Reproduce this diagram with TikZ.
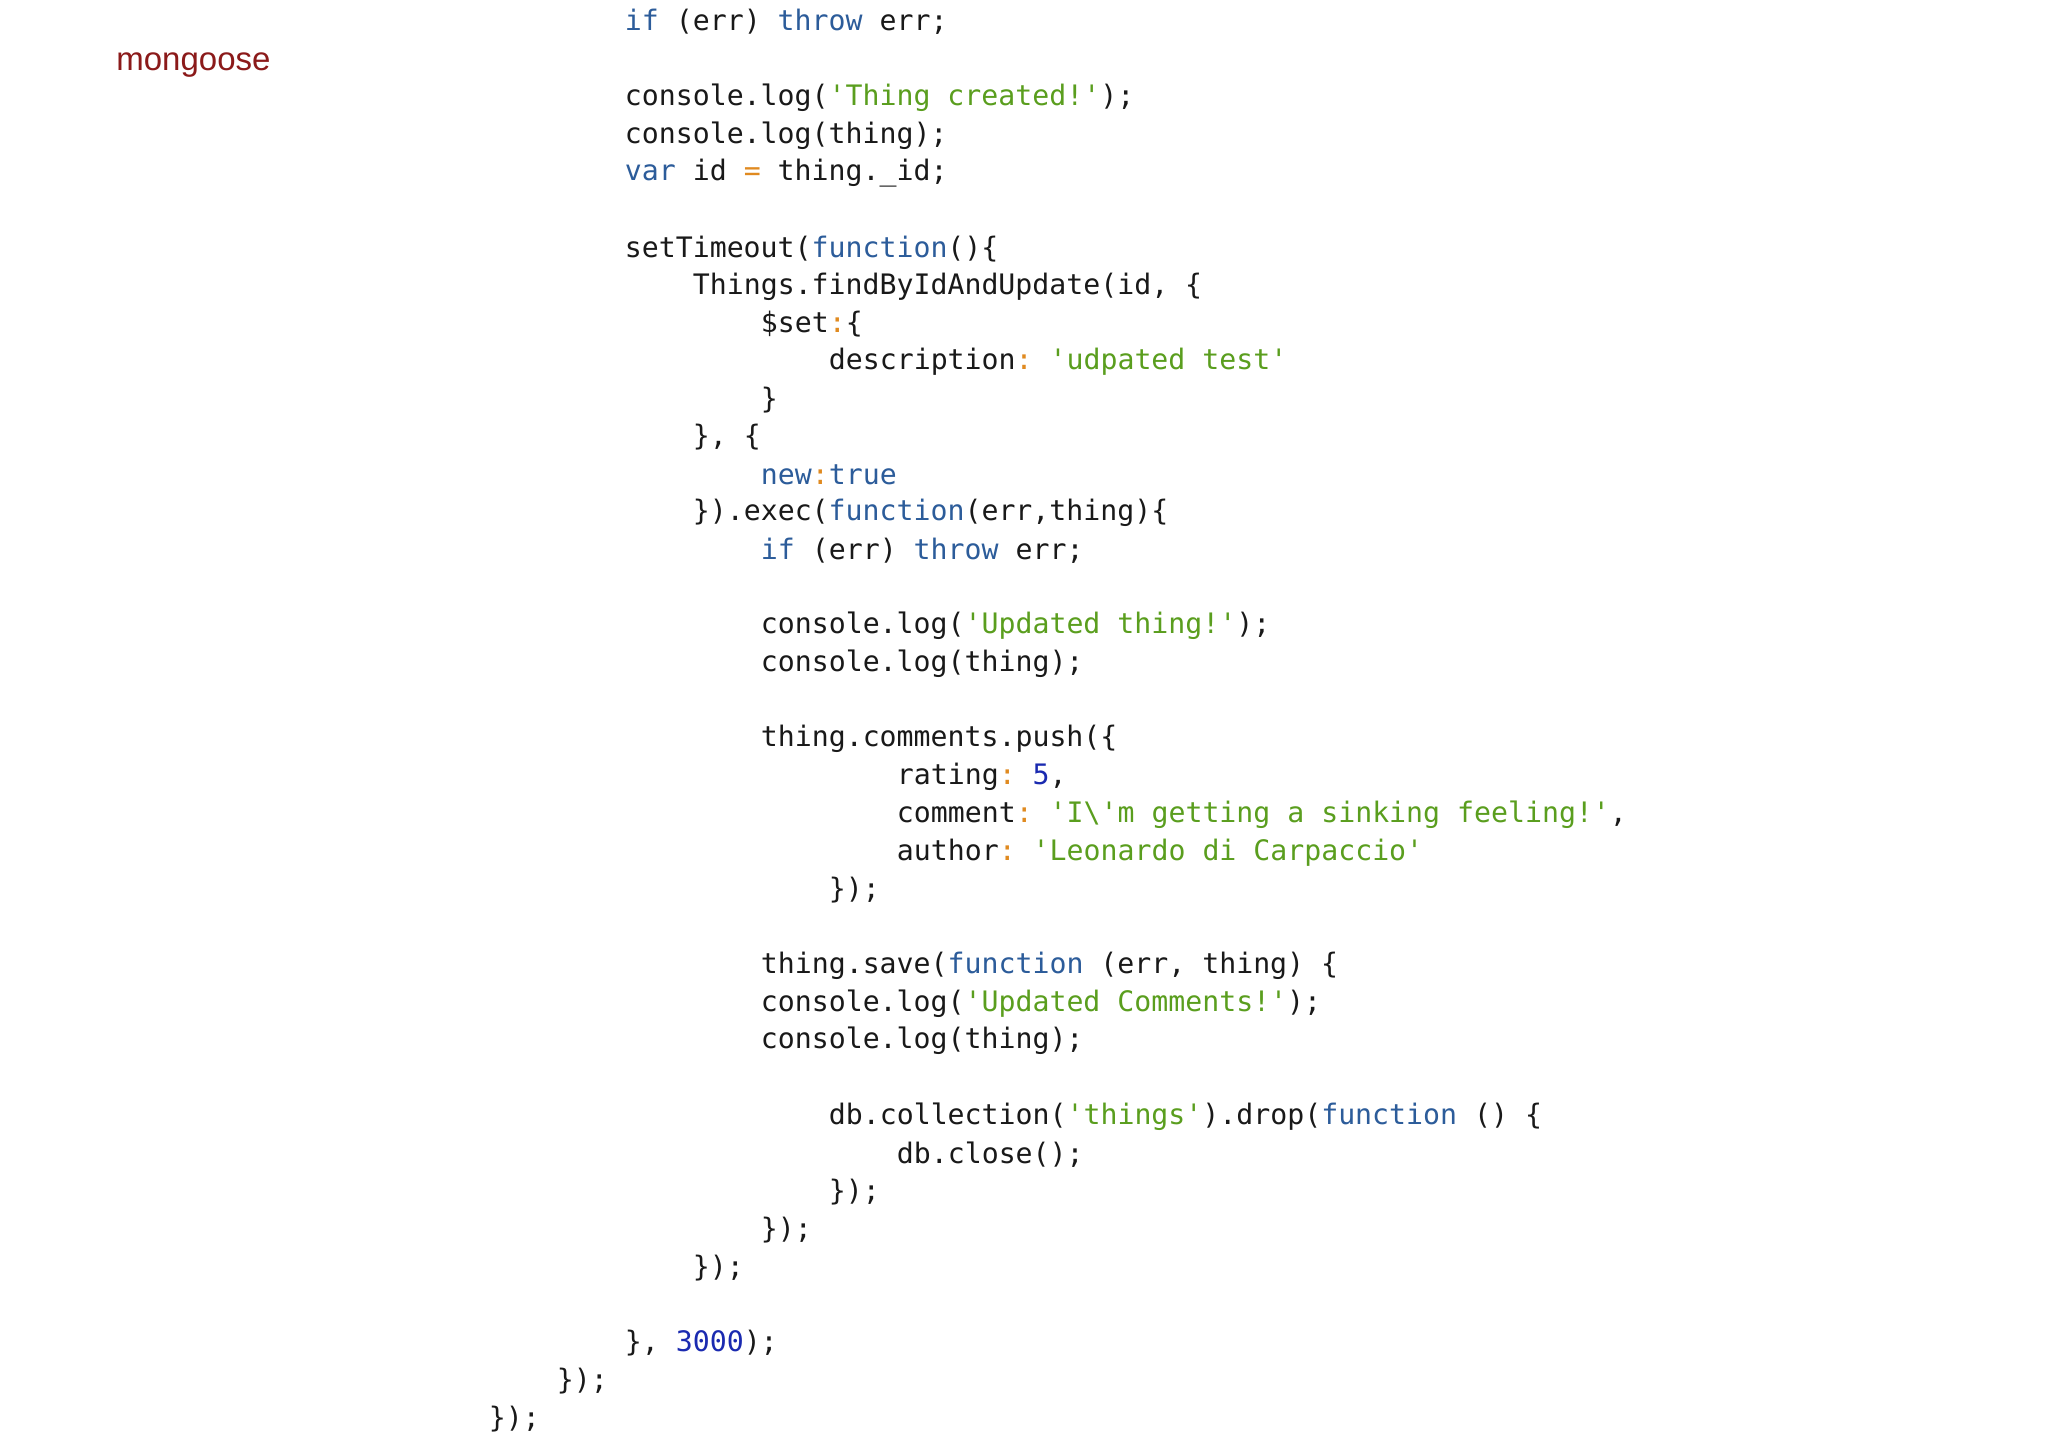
\documentclass[tikz,border=0pt]{standalone}
\usepackage{fontspec}
\setmainfont{Liberation Sans}
\setmonofont{DejaVu Sans Mono}
\definecolor{kwc}{HTML}{2C5C9A}
\definecolor{stc}{HTML}{5A9E1E}
\definecolor{nmc}{HTML}{1A2AB0}
\definecolor{opc}{HTML}{E08A20}
\definecolor{ttl}{HTML}{8B1A1A}
\newcommand{\kw}[1]{\textcolor{kwc}{#1}}
\newcommand{\st}[1]{\textcolor{stc}{#1}}
\newcommand{\nm}[1]{\textcolor{nmc}{#1}}
\newcommand{\op}[1]{\textcolor{opc}{#1}}
\newcommand{\cl}[4]{\node[code] (l#1) at ({488.5+17*#2},{22.2+37.74*#1}) {#3#4};}
\begin{document}
\begin{tikzpicture}[x=0.5pt,y=-0.5pt,
  code/.style={anchor=west,inner sep=0pt,font=\fontsize{14.1}{16}\selectfont\ttfamily,text=black!90}]
\useasboundingbox (0,0) rectangle (2048,1448);
\fill[white] (0,0) rectangle (2048,1448);
\node[anchor=west,inner sep=0pt,text=ttl,font=\fontsize{16.5}{18}\selectfont] (title) at (116,65) {mongoose};
\cl{0}{8}{\kw{if} (err) \kw{throw} err;}{}
\cl{2}{8}{console.log(\st{'Thing created!'});}{}
\cl{3}{8}{console.log(thing);}{}
\cl{4}{8}{\kw{var} id \op{=} thing.\_id;}{}
\cl{6}{8}{setTimeout(\kw{function}()\{}{}
\cl{7}{12}{Things.findByIdAndUpdate(id, \{}{}
\cl{8}{16}{\$set\op{:}\{}{}
\cl{9}{20}{description\op{:} \st{'udpated test'}}{}
\cl{10}{16}{\}}{}
\cl{11}{12}{\}, \{}{}
\cl{12}{16}{\kw{new}\op{:}\kw{true}}{}
\cl{13}{12}{\}).exec(\kw{function}(err,thing)\{}{}
\cl{14}{16}{\kw{if} (err) \kw{throw} err;}{}
\cl{16}{16}{console.log(\st{'Updated thing!'});}{}
\cl{17}{16}{console.log(thing);}{}
\cl{19}{16}{thing.comments.push(\{}{}
\cl{20}{24}{rating\op{:} \nm{5},}{}
\cl{21}{24}{comment\op{:} \st{'I\textbackslash'm getting a sinking feeling!'},}{}
\cl{22}{24}{author\op{:} \st{'Leonardo di Carpaccio'}}{}
\cl{23}{20}{\});}{}
\cl{25}{16}{thing.save(\kw{function} (err, thing) \{}{}
\cl{26}{16}{console.log(\st{'Updated Comments!'});}{}
\cl{27}{16}{console.log(thing);}{}
\cl{29}{20}{db.collection(\st{'things'}).drop(\kw{function} () \{}{}
\cl{30}{24}{db.close();}{}
\cl{31}{20}{\});}{}
\cl{32}{16}{\});}{}
\cl{33}{12}{\});}{}
\cl{35}{8}{\}, \nm{3000});}{}
\cl{36}{4}{\});}{}
\cl{37}{0}{\});}{}
\end{tikzpicture}
\end{document}
